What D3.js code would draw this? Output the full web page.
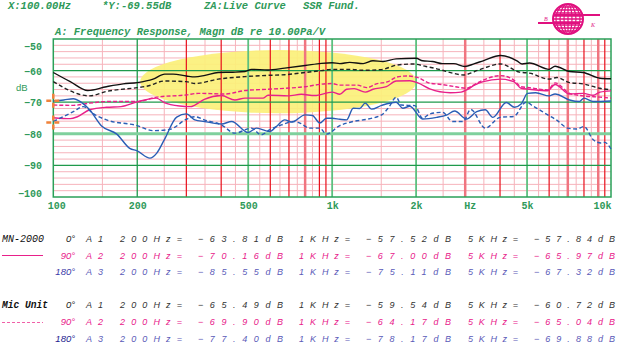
<!DOCTYPE html>
<html><head><meta charset="utf-8">
<script src="https://cdn.jsdelivr.net/npm/d3@7"></script>
<style>
html,body{margin:0;padding:0;background:#fff;}
svg{display:block;}
</style></head>
<body>
<svg id="chart" width="617" height="357"></svg>
<script>
// ---------- data ----------
const xTickValues = [100,200,500,1000,2000,5000,10000];
const xTickLabels = ["100","200","500","1k","2k","5k","10k"];
const yTickValues = [-50,-60,-70,-80,-90,-100];
const lightFreqs = [150,250,350,450,550,650,750,850,1500,2500,3500,4500,5500,6500,7500,8500];
const redFreqs = [300,400,600,700,900,950,4000,6000,8000,9500];
const thickRedFreqs = [800,3000,7000,9000];
const greenFreqs = [200,500,1000,2000,5000];
const greenLevels = [-60,-70,-90];
const thickGreenLevels = [-80];

const mn0 = [[100,-60.6],[115,-63.5],[133,-66.3],[155,-65.1],[178,-64.2],[200,-63.8],[228,-62.7],[251,-61.1],[269,-61.1],[300,-61.7],[322,-62.0],[350,-61.5],[390,-60.6],[440,-60.5],[487,-60.3],[514,-59.6],[589,-59.8],[676,-59.2],[800,-58.4],[915,-57.7],[1000,-57.5],[1065,-57.8],[1155,-57.4],[1292,-57.8],[1401,-56.9],[1521,-57.1],[1697,-56.3],[2000,-56.1],[2110,-56.9],[2289,-57.1],[2484,-57.8],[2730,-57.8],[2990,-58.7],[3240,-57.8],[3480,-56.9],[4020,-55.2],[4600,-56.9],[4800,-57.9],[5100,-57.6],[6000,-59.6],[6300,-58.6],[7100,-60.3],[7940,-60.6],[9130,-62.4],[10000,-62.6]];
const mn90 = [[100,-74.9],[115,-75.2],[122,-74.6],[135,-72.4],[155,-71.6],[175,-71.4],[200,-69.9],[234,-68.7],[250,-70.1],[284,-71.2],[310,-71.4],[322,-70.9],[348,-69.1],[401,-67.9],[448,-69.3],[487,-68.7],[565,-68.7],[589,-67.8],[696,-68.0],[775,-67.5],[866,-67.9],[1000,-66.8],[1065,-67.5],[1127,-65.9],[1200,-65.7],[1314,-66.8],[1401,-65.9],[1565,-65.1],[1697,-63.3],[1900,-63.2],[2030,-63.9],[2240,-65.8],[2650,-67.0],[2900,-66.8],[3050,-66.0],[3240,-64.6],[3480,-63.5],[4020,-62.7],[4480,-63.5],[4760,-65.6],[5100,-65.9],[5930,-66.4],[6300,-64.4],[7100,-67.4],[7940,-67.2],[8640,-67.8],[9130,-66.8],[10000,-66.4]];
const mn180 = [[100,-69.6],[109,-69.3],[118,-68.9],[125,-69.8],[135,-72.4],[149,-77.5],[169,-80.1],[188,-84.6],[200,-85.4],[222,-87.7],[235,-86.1],[250,-81.9],[277,-74.7],[300,-73.7],[322,-75.6],[348,-76.1],[401,-76.9],[436,-76.1],[500,-79.6],[536,-78.2],[597,-79.3],[631,-77.7],[676,-75.6],[716,-76.3],[800,-74.0],[850,-74.2],[903,-76.6],[954,-75.1],[1000,-75.1],[1065,-75.4],[1127,-75.6],[1190,-71.9],[1255,-72.0],[1314,-70.3],[1385,-72.2],[1505,-71.0],[1697,-70.0],[1790,-71.9],[1900,-71.3],[2110,-75.3],[2370,-74.8],[2570,-74.1],[2750,-72.8],[3030,-75.3],[3300,-73.0],[3540,-72.4],[3770,-74.8],[4210,-70.1],[4510,-71.6],[4760,-70.6],[5020,-67.2],[5370,-67.0],[6000,-68.0],[6300,-67.4],[7100,-69.3],[7700,-69.8],[8000,-68.7],[8640,-69.8],[10000,-69.6]];
const mic0 = [[100,-63.5],[135,-68.0],[155,-66.6],[200,-65.4],[220,-64.8],[250,-63.3],[300,-63.5],[322,-64.1],[390,-62.7],[487,-61.9],[589,-61.5],[676,-61.3],[800,-60.6],[915,-60.0],[1000,-59.6],[1155,-59.6],[1292,-59.9],[1500,-59.7],[1697,-58.3],[1950,-57.9],[2170,-58.7],[2420,-59.6],[2700,-60.8],[2960,-61.4],[3240,-60.3],[3480,-59.3],[4020,-57.9],[4700,-60.5],[5100,-60.8],[6000,-62.7],[6400,-62.2],[7100,-63.8],[7940,-64.2],[9130,-65.6],[10000,-66.1]];
const mic90 = [[100,-70.9],[118,-71.0],[135,-70.3],[155,-69.8],[200,-69.8],[234,-68.4],[300,-67.7],[331,-67.2],[412,-67.4],[487,-66.3],[589,-65.9],[676,-65.6],[800,-65.1],[915,-64.3],[1000,-64.1],[1065,-64.6],[1230,-64.6],[1332,-65.4],[1440,-64.2],[1587,-63.5],[1697,-62.1],[1850,-61.7],[2030,-62.2],[2240,-64.0],[2420,-64.3],[2770,-65.1],[3030,-65.6],[3240,-64.4],[3480,-63.0],[4020,-61.6],[4480,-63.0],[4760,-65.1],[5100,-65.4],[5930,-66.1],[6300,-63.9],[7100,-67.2],[7940,-68.0],[9130,-68.4],[10000,-68.7]];
const mic180 = [[100,-76.1],[118,-73.0],[128,-71.4],[140,-73.8],[155,-75.6],[200,-77.4],[228,-79.0],[262,-78.6],[300,-75.4],[322,-74.6],[348,-75.6],[401,-77.2],[448,-79.8],[514,-78.2],[556,-80.3],[600,-78.6],[658,-77.2],[733,-76.1],[766,-76.6],[830,-78.2],[903,-78.2],[954,-80.1],[1065,-77.4],[1190,-76.1],[1330,-75.4],[1505,-74.0],[1600,-71.5],[1697,-68.4],[1770,-70.9],[1980,-71.1],[2110,-75.1],[2240,-73.7],[2490,-73.2],[2700,-76.1],[2950,-76.1],[3140,-72.3],[3540,-78.2],[4000,-74.8],[4480,-74.5],[4960,-70.0],[5250,-71.2],[5930,-74.0],[6370,-75.6],[7000,-78.2],[7530,-78.5],[8000,-77.7],[8640,-81.9],[9200,-82.9],[9500,-82.7],[10000,-84.8]];

const markerPoints = [[100,-69.55],[100,-76.4]];
const highlight = {f0:205, f1:2005, lo:-73.5, hi:-53.5};

const devices = ["MN-2000","Mic Unit"];
const angles = ["0°","90°","180°"];
const channels = ["A1","A2","A3"];
const freqLabels = ["200Hz=","1KHz=","5KHz="];
const mnValues = [[-63.81,-57.52,-57.84],[-70.16,-67.00,-65.97],[-85.55,-75.11,-67.32]];
const micValues = [[-65.49,-59.54,-60.72],[-69.90,-64.17,-65.04],[-77.40,-78.17,-69.88]];
const headerTexts = ["X:100.00Hz","*Y:-69.55dB","ZA:Live Curve","SSR Fund."];
const titleText = "A: Frequency Response, Magn dB re 10.00Pa/V";

// ---------- drawing ----------
const svg = d3.select("#chart");
const x = d3.scaleLog().domain([100,10000]).range([53.3,611]);
const y = d3.scaleLinear().domain([-100,-50]).range([197,39]);
const TXTGREEN = "#2f9a5a";
const BLACK = "#111", PINK = "#e8208a", BLUE = "#2a5db5";

const grid = svg.append("g");
grid.selectAll(".hl").data(d3.range(-98,-50,2).filter(v=>v%10!==0)).enter().append("line")
  .attr("x1",x(100)).attr("x2",x(10000)).attr("y1",d=>y(d)).attr("y2",d=>y(d))
  .attr("stroke","#f6b3bb").attr("stroke-width",1);
grid.selectAll(".vl").data(lightFreqs).enter().append("line")
  .attr("x1",d=>x(d)).attr("x2",d=>x(d)).attr("y1",y(-100)).attr("y2",y(-50))
  .attr("stroke","#f6b3bb").attr("stroke-width",1);

const ex0=x(highlight.f0), ex1=x(highlight.f1), ey0=y(highlight.hi), ey1=y(highlight.lo);
svg.append("ellipse").attr("cx",(ex0+ex1)/2).attr("cy",(ey0+ey1)/2)
  .attr("rx",(ex1-ex0)/2).attr("ry",(ey1-ey0)/2)
  .attr("fill","#fbf07a").attr("opacity",0.92);

const grid2 = svg.append("g");
grid2.selectAll(".tr").data(thickRedFreqs).enter().append("line")
  .attr("x1",d=>x(d)).attr("x2",d=>x(d)).attr("y1",y(-100)).attr("y2",y(-50))
  .attr("stroke","#f07580").attr("stroke-width",2.5);
grid2.selectAll(".r").data(redFreqs).enter().append("line")
  .attr("x1",d=>x(d)).attr("x2",d=>x(d)).attr("y1",y(-100)).attr("y2",y(-50))
  .attr("stroke","#e8101c").attr("stroke-width",1.2);
grid2.selectAll(".g").data(greenFreqs).enter().append("line")
  .attr("x1",d=>x(d)).attr("x2",d=>x(d)).attr("y1",y(-100)).attr("y2",y(-50))
  .attr("stroke",d=>d===200?"#1f9a4c":"#5cc07f").attr("stroke-width",d=>d===200?1.3:1.8);
grid2.selectAll(".gh").data(greenLevels).enter().append("line")
  .attr("x1",x(100)).attr("x2",x(10000)).attr("y1",d=>y(d)).attr("y2",d=>y(d))
  .attr("stroke","#1f9a4c").attr("stroke-width",1.3);
grid2.selectAll(".tgh").data(thickGreenLevels).enter().append("line")
  .attr("x1",x(100)).attr("x2",x(10000)).attr("y1",d=>y(d)).attr("y2",d=>y(d))
  .attr("stroke","#7fd09d").attr("stroke-width",3);
svg.append("rect").attr("x",x(100)).attr("y",y(-50)).attr("width",x(10000)-x(100)).attr("height",y(-100)-y(-50))
  .attr("fill","none").attr("stroke","#2aa058").attr("stroke-width",1.5);

const line = d3.line().x(d=>x(d[0])).y(d=>y(d[1])).curve(d3.curveMonotoneX);
const series = [
  {d:mn0, c:BLACK, dash:null},
  {d:mic0, c:"#222", dash:"4,2.5"},
  {d:mic90, c:PINK, dash:"4,2"},
  {d:mn90, c:PINK, dash:null},
  {d:mic180, c:BLUE, dash:"4,2.5"},
  {d:mn180, c:BLUE, dash:null},
];
svg.append("g").selectAll("path").data(series).enter().append("path")
  .attr("d",s=>line(s.d)).attr("fill","none").attr("stroke",s=>s.c)
  .attr("stroke-width",1.4).attr("stroke-dasharray",s=>s.dash);

const mk = svg.append("g");
markerPoints.forEach(p=>{
  const px=x(p[0]), py=y(p[1]);
  mk.append("line").attr("x1",px-7).attr("x2",px+8).attr("y1",py).attr("y2",py)
    .attr("stroke","#f0823a").attr("stroke-width",2.5).attr("stroke-dasharray","5,3");
  mk.append("line").attr("x1",px).attr("x2",px).attr("y1",py-7).attr("y2",py+8)
    .attr("stroke","#f0823a").attr("stroke-width",2.5).attr("stroke-dasharray","5,4");
});

const xAxis = d3.axisBottom(x).tickValues(xTickValues).tickFormat((d,i)=>xTickLabels[i]).tickSize(0).tickPadding(0);
const gx = svg.append("g").attr("transform","translate(0,209)").call(xAxis);
gx.select(".domain").remove();
gx.selectAll("text").attr("font-family","Liberation Mono").attr("font-weight","bold")
  .attr("font-size","10px").attr("fill",TXTGREEN).attr("dy","0")
  .attr("text-anchor",(d)=>d===10000?"end":(d===100?"start":"middle"))
  .attr("dx",d=>d===10000?"0":(d===100?"-6":"0"));
svg.append("text").attr("x",x(3000)+5).attr("y",209).attr("text-anchor","middle")
  .attr("font-family","Liberation Mono").attr("font-weight","bold").attr("font-size","10px")
  .attr("fill",TXTGREEN).text("Hz");

const yAxis = d3.axisLeft(y).tickValues(yTickValues).tickFormat(d3.format("d")).tickSize(0).tickPadding(0);
const gy = svg.append("g").attr("transform","translate(42,0)").call(yAxis);
gy.select(".domain").remove();
gy.selectAll("text").attr("font-family","Liberation Mono").attr("font-weight","bold")
  .attr("font-size","10px").attr("fill",TXTGREEN).attr("dy","0.35em")
  .attr("transform",d=>d===-100?"translate(0,-4)":(d===-50?"translate(0,7)":null));
svg.append("text").attr("x",16).attr("y",91).attr("font-family","Liberation Sans")
  .attr("font-size","9.5px").attr("fill",TXTGREEN).text("dB");

const hx = [8,102,204,303];
svg.selectAll(".hdr").data(headerTexts).enter().append("text")
  .attr("x",(d,i)=>hx[i]).attr("y",9).attr("font-family","Liberation Mono")
  .attr("font-style","italic").attr("font-weight","bold").attr("font-size","10.5px")
  .attr("fill",TXTGREEN).text(d=>d);
svg.append("text").attr("x",55).attr("y",35).attr("font-family","Liberation Mono")
  .attr("font-style","italic").attr("font-weight","bold").attr("font-size","10.5px")
  .attr("fill",TXTGREEN).attr("textLength",270).attr("lengthAdjust","spacingAndGlyphs").text(titleText);

const LOGO="#e0107f";
const lg = svg.append("g").attr("transform","translate(568,19)");
const R=15;
lg.append("defs").append("clipPath").attr("id","gclip").append("circle").attr("r",R);
lg.append("circle").attr("r",R).attr("fill","#fff").attr("stroke",LOGO).attr("stroke-width",2);
const gl = lg.append("g").attr("clip-path","url(#gclip)");
d3.range(-12,13,3).forEach(v=>gl.append("line").attr("x1",-R).attr("x2",R).attr("y1",v).attr("y2",v).attr("stroke",LOGO).attr("stroke-width",1.3));
[4,8,12].forEach(r=>gl.append("ellipse").attr("rx",r).attr("ry",R).attr("fill","none").attr("stroke",LOGO).attr("stroke-width",1.2));
gl.append("line").attr("x1",0).attr("x2",0).attr("y1",-R).attr("y2",R).attr("stroke",LOGO).attr("stroke-width",1.2);
lg.append("line").attr("x1",-14).attr("x2",32).attr("y1",-4).attr("y2",-4).attr("stroke",LOGO).attr("stroke-width",2);
lg.append("line").attr("x1",-30).attr("x2",12).attr("y1",4).attr("y2",4).attr("stroke",LOGO).attr("stroke-width",2);
lg.append("text").attr("x",-24).attr("y",2).attr("font-family","Liberation Serif").attr("font-style","italic")
  .attr("font-size","6px").attr("fill",LOGO).text("B");
lg.append("text").attr("x",23).attr("y",8).attr("font-family","Liberation Serif").attr("font-style","italic")
  .attr("font-size","6px").attr("fill",LOGO).text("K");

const rowY = [[242,258.5,275],[307.5,325,341.5]];
const labelColors = ["#111","#111"];
const angleColors = [["#222",PINK,"#3a3aa8"],["#222",PINK,"#23238f"]];
const valueColors = [["#333",PINK,"#5a5ab8"],["#333",PINK,"#5a5ab8"]];
const cols = [[86,17],[120,62],[198,85],[299,51],[366,85],[468,50],[534,81]];
const fmt = d3.format(".2f");
[mnValues,micValues].forEach((vals,di)=>{
  const g = svg.append("g");
  g.append("text").attr("x",2).attr("y",rowY[di][0]).attr("font-family","Liberation Mono")
    .attr("font-style","italic").attr("font-weight",di===1?"bold":"normal").attr("font-size","10px")
    .attr("fill",labelColors[di]).attr("textLength",di===0?42:46).attr("lengthAdjust","spacingAndGlyphs").text(devices[di]);
  g.append("line").attr("x1",2).attr("x2",43).attr("y1",Math.round(rowY[di][1]-3.5)+0.5).attr("y2",Math.round(rowY[di][1]-3.5)+0.5)
    .attr("stroke",di===1?"#f060a8":PINK).attr("stroke-width",1.2).attr("stroke-dasharray",di===1?"3,2":null);
  vals.forEach((row,ri)=>{
    const yy = rowY[di][ri];
    g.append("text").attr("x",75).attr("y",yy).attr("text-anchor","end").attr("font-family","Liberation Sans")
      .attr("font-style","italic").attr("font-size","9.5px").attr("fill",angleColors[di][ri]).text(angles[ri]);
    const items = [channels[ri], freqLabels[0], fmt(row[0])+"dB", freqLabels[1], fmt(row[1])+"dB", freqLabels[2], fmt(row[2])+"dB"];
    items.forEach((t,k)=>{
      g.append("text").attr("x",cols[k][0]).attr("y",yy).attr("font-family","Liberation Sans")
        .attr("font-style","italic").attr("font-size","9px").attr("fill",valueColors[di][ri])
        .attr("textLength",cols[k][1]).attr("lengthAdjust","spacing").text(t);
    });
  });
});
</script>
</body></html>
